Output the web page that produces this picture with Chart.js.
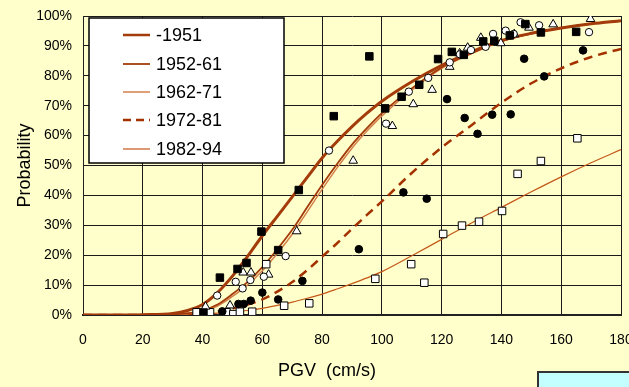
<!DOCTYPE html>
<html>
<head>
<meta charset="utf-8">
<script src="https://cdn.jsdelivr.net/npm/chart.js@4.4.0/dist/chart.umd.min.js"></script>
<style>
    html, body { margin: 0; padding: 0; background: #FFFFCC; }
    #wrap { width: 629px; height: 387px; position: relative; }
</style>
</head>
<body>
<div id="wrap"><canvas id="pgvChart"></canvas></div>
<script>
// PGV grid the fragility curves were read at (cm/s)
const pgvGrid = [0, 10, 20, 30, 35, 40, 45, 50, 55, 60, 65, 70, 75, 80, 85, 90, 95, 100, 110, 120, 130, 140, 150, 160, 170, 180];

// Probability (%) of each period's curve at pgvGrid
const curve1951 = [0, 0, 0.1, 0.5, 1.5, 3.5, 7.5, 13, 19.5, 26.5, 33, 39.5, 46, 52.5, 58, 63, 67.5, 71.5, 78, 83.5, 88, 91.8, 94.2, 96, 97.4, 98.4];
const curve5261 = [0, 0, 0, 0.2, 0.6, 1.5, 3.5, 7, 11, 16, 22, 28.5, 36, 43.5, 50.5, 57, 62.5, 67.5, 75.8, 82.8, 87.6, 91.6, 94.1, 96, 97.4, 98.4];
const curve6271 = [0, 0, 0, 0.1, 0.5, 1.2, 3, 6.2, 10, 14.8, 20.6, 27, 34.5, 42, 49.2, 55.8, 61.5, 66.6, 75.2, 82.5, 87.4, 91.5, 94.1, 96, 97.4, 98.4];
const curve7281 = [0, 0, 0, 0.1, 0.2, 0.5, 1.2, 2.2, 3.5, 5.2, 7.8, 11, 15, 19.5, 24, 28.8, 33.5, 38, 47.5, 56, 63.5, 71, 77.5, 82.5, 86.3, 89];
const curve8294 = [0, 0, 0, 0, 0.1, 0.3, 0.6, 1, 1.5, 2.2, 3.2, 4.3, 5.6, 7, 8.7, 10.5, 12.4, 14.5, 19.8, 25.3, 30.8, 36, 41.2, 46.2, 50.9, 55.3];

const curveLabels = ['-1951', '1952-61', '1962-71', '1972-81', '1982-94'];

// Observed damage ratios [PGV, %]
const obsFilledSquare = [[40.3, 0.8], [45.8, 12.5], [51.7, 15.4], [54.7, 17.4], [59.7, 27.9], [65.3, 21.7], [72.2, 41.8], [83.9, 66.5], [95.8, 86.5], [101.1, 69.1], [106.6, 73], [112.5, 77], [118.8, 85.6], [123.4, 88], [127.4, 87], [133.9, 91.5], [137.6, 91.7], [142.8, 93.5], [148, 97.3], [153.2, 94.5], [165, 94.7]];
const obsOpenCircle = [[44.9, 6.5], [51.1, 11.1], [53.4, 8.9], [56, 11.7], [60.5, 12.8], [67.8, 19.7], [82.3, 55], [101.4, 64], [109, 74.7], [115.5, 79.3], [122.7, 84.5], [126.1, 87.2], [129.8, 88.6], [134.7, 89.7], [137.2, 94], [141.4, 95.1], [144.1, 94], [146.4, 97.9], [152.6, 96.9], [169.3, 94.6]];
const obsOpenTriangle = [[41, 2.8], [49.2, 3.2], [53.6, 14.2], [56.2, 14.2], [62.1, 13.5], [71.5, 28], [90.4, 51.6], [103.5, 63.2], [110.5, 70.5], [116.8, 75.3], [122.7, 83], [126, 87.5], [128.7, 89.4], [133.1, 92.7], [139.8, 90.9], [144.3, 93.9], [149.2, 96.1], [157.3, 97.2], [169.8, 99]];
const obsFilledCircle = [[46.6, 1.2], [52, 3.7], [53.8, 3.7], [56.1, 4.8], [60, 7.5], [65.3, 5.2], [73.4, 11.4], [92.3, 22], [107.2, 41], [115, 38.9], [121.8, 72.2], [127.7, 65.9], [132, 60.6], [136.9, 67], [143.1, 67.1], [147.6, 85.7], [154.3, 79.8], [167.3, 88.5]];
const obsOpenSquare = [[38, 0.9], [42.5, 0.9], [48, 0.9], [50.3, 0.3], [52.5, 1.1], [56.6, 1.1], [61.3, 17], [67.3, 3.1], [75.7, 3.9], [97.8, 12.1], [109.8, 17], [114.2, 10.8], [120.5, 27.1], [126.8, 29.9], [132.5, 31.2], [140.2, 34.8], [145.4, 47.2], [153.2, 51.5], [165.4, 59.1]];

const FONT = "'Liberation Sans', Arial, sans-serif";

function toXY(xs, ys) {
    return xs.map((x, i) => ({ x: x, y: ys[i] }));
}
function pairsToXY(pairs) {
    return pairs.map(p => ({ x: p[0], y: p[1] }));
}

function curveSet(label, values, color, width, dash) {
    return {
        type: 'line',
        label: label,
        data: toXY(pgvGrid, values),
        borderColor: color,
        borderWidth: width,
        borderDash: dash || [],
        pointRadius: 0,
        cubicInterpolationMode: 'monotone',
        fill: false,
        order: 2
    };
}

function markerSet(label, pairs, style, radius, fill) {
    return {
        type: 'scatter',
        label: label,
        data: pairsToXY(pairs),
        pointStyle: style,
        pointRadius: radius,
        pointBackgroundColor: fill,
        pointBorderColor: '#000',
        pointBorderWidth: 1,
        order: 1
    };
}

// Canvas background, legend box, x-axis title and the cyan box at the bottom
const decorPlugin = {
    id: 'decor',
    beforeDraw(chart) {
        const ctx = chart.ctx;
        ctx.save();
        ctx.fillStyle = '#FFFFCC';
        ctx.fillRect(0, 0, chart.width, chart.height);
        ctx.restore();
    },
    afterDraw(chart) {
        const ctx = chart.ctx;
        ctx.save();

        // legend
        ctx.fillStyle = '#FFFFFF';
        ctx.fillRect(89, 18, 195, 145);
        ctx.strokeStyle = '#000';
        ctx.lineWidth = 1.5;
        ctx.strokeRect(89, 18, 195, 145);
        const rows = [35, 64, 92, 120, 149];
        const lineSets = chart.data.datasets.filter(d => d.type === 'line');
        lineSets.forEach((ds, i) => {
            ctx.beginPath();
            ctx.strokeStyle = ds.borderColor;
            ctx.lineWidth = Math.min(ds.borderWidth, 2.5);
            ctx.setLineDash(ds.borderDash.length ? [8, 5] : []);
            ctx.moveTo(123, rows[i]);
            ctx.lineTo(150, rows[i]);
            ctx.stroke();
            ctx.setLineDash([]);
            ctx.fillStyle = '#000';
            ctx.font = '18px ' + FONT;
            ctx.textBaseline = 'middle';
            ctx.textAlign = 'left';
            ctx.fillText(ds.label, 156, rows[i] + 1);
        });

        // x-axis title
        ctx.fillStyle = '#000';
        ctx.font = '18px ' + FONT;
        ctx.textAlign = 'center';
        ctx.textBaseline = 'middle';
        ctx.fillText('PGV  (cm/s)', 327, 371);

        // cyan box cut off at the bottom right
        ctx.fillStyle = '#C4FFFF';
        ctx.fillRect(538, 372, 100, 20);
        ctx.strokeStyle = '#333';
        ctx.lineWidth = 2;
        ctx.beginPath();
        ctx.moveTo(538, 392);
        ctx.lineTo(538, 372);
        ctx.lineTo(640, 372);
        ctx.stroke();

        ctx.restore();
    }
};

document.addEventListener('DOMContentLoaded', function () {
    const ctx = document.getElementById('pgvChart');

    new Chart(ctx, {
        data: {
            datasets: [
                curveSet(curveLabels[0], curve1951, '#A33B0A', 3),
                curveSet(curveLabels[1], curve5261, '#A33B0A', 1.8),
                curveSet(curveLabels[2], curve6271, '#D4804A', 1.5),
                curveSet(curveLabels[3], curve7281, '#A33200', 2.5, [9, 6]),
                curveSet(curveLabels[4], curve8294, '#C4581A', 1.2),
                markerSet('obs filled square', obsFilledSquare, 'rect', 5.3, '#000'),
                markerSet('obs open circle', obsOpenCircle, 'circle', 3.7, '#fff'),
                markerSet('obs open triangle', obsOpenTriangle, 'triangle', 5, '#fff'),
                markerSet('obs filled circle', obsFilledCircle, 'circle', 3.8, '#000'),
                markerSet('obs open square', obsOpenSquare, 'rect', 5.3, '#fff')
            ]
        },
        options: {
            responsive: true,
            maintainAspectRatio: false,
            animation: false,
            layout: {
                padding: { top: 16, right: 8, left: 0, bottom: 0 }
            },
            plugins: {
                legend: { display: false },
                tooltip: { enabled: false }
            },
            scales: {
                x: {
                    type: 'linear',
                    min: 0,
                    max: 180,
                    afterFit(scale) {
                        scale.height = 72;
                        scale.paddingLeft = 0;
                        scale.paddingRight = 0;
                    },
                    ticks: {
                        stepSize: 20,
                        color: '#000',
                        padding: 17,
                        maxRotation: 0,
                        font: { family: FONT, size: 14 }
                    },
                    grid: {
                        color: '#1a1a1a',
                        lineWidth: 1,
                        drawTicks: false
                    },
                    border: { color: '#222', width: 2 }
                },
                y: {
                    min: 0,
                    max: 100,
                    afterFit(scale) {
                        scale.width = 83;
                        scale.paddingTop = 0;
                        scale.paddingBottom = 0;
                    },
                    ticks: {
                        stepSize: 10,
                        color: '#000',
                        padding: 11,
                        font: { family: FONT, size: 14 },
                        callback: v => v + '%'
                    },
                    grid: {
                        color: '#1a1a1a',
                        lineWidth: 1,
                        drawTicks: false
                    },
                    border: { color: '#222', width: 1 },
                    title: {
                        display: true,
                        text: 'Probability',
                        color: '#000',
                        font: { family: FONT, size: 18 },
                        padding: { top: 14, bottom: 0 }
                    }
                }
            }
        },
        plugins: [decorPlugin]
    });
});
</script>
</body>
</html>
